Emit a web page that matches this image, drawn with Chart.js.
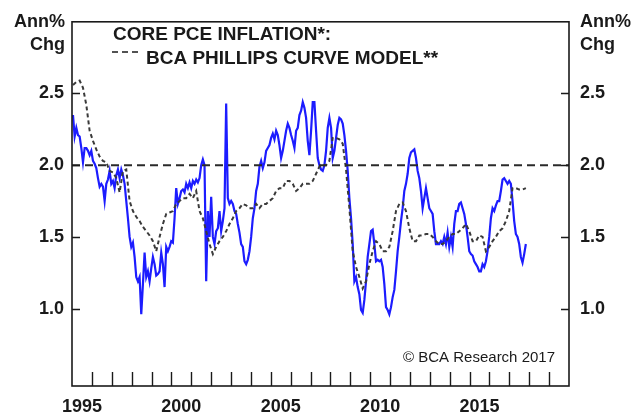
<!DOCTYPE html>
<html>
<head>
<meta charset="utf-8">
<script src="https://cdn.jsdelivr.net/npm/chart.js@4"></script>
<style>
  html, body { margin: 0; padding: 0; background: #fff; }
  #wrap { width: 644px; height: 414px; }
</style>
</head>
<body>
<div id="wrap"><canvas id="chart" width="644" height="414"></canvas></div>
<script>
// Core PCE inflation, sampled roughly monthly off the picture (Ann% Chg)
const coreStart = 1995.05;
const coreStep = 0.08375;
const coreValues = [
  2.35, 2.20, 2.26, 2.21, 2.20, 2.12, 2.02, 2.12, 2.12, 2.10, 2.07, 2.10, 2.03, 2.01, 1.98, 1.91,
  1.85, 1.87, 1.85, 1.75, 1.87, 1.90, 1.96, 1.87, 1.89, 1.84, 1.93, 1.97, 1.91, 1.97, 1.93, 1.87,
  1.75, 1.63, 1.50, 1.43, 1.46, 1.36, 1.22, 1.19, 1.22, 0.96, 1.17, 1.39, 1.22, 1.26, 1.19, 1.28,
  1.36, 1.31, 1.23, 1.24, 1.26, 1.39, 1.31, 1.15, 1.43, 1.40, 1.43, 1.47, 1.46, 1.63, 1.84, 1.73,
  1.77, 1.82, 1.83, 1.81, 1.87, 1.84, 1.88, 1.84, 1.89, 1.87, 1.90, 1.88, 1.91, 2.00, 2.04, 2.00,
  1.19, 1.68, 1.50, 1.78, 1.50, 1.45, 1.54, 1.56, 1.68, 1.54, 1.61, 1.70, 2.43, 1.77, 1.73, 1.75,
  1.73, 1.68, 1.66, 1.59, 1.53, 1.45, 1.43, 1.33, 1.31, 1.34, 1.40, 1.50, 1.63, 1.70, 1.82, 1.87,
  1.99, 2.03, 1.98, 2.02, 2.10, 2.12, 2.14, 2.19, 2.22, 2.18, 2.24, 2.21, 2.14, 2.05, 2.10, 2.17,
  2.24, 2.29, 2.26, 2.21, 2.17, 2.12, 2.24, 2.26, 2.35, 2.38, 2.44, 2.40, 2.33, 2.17, 2.07, 2.24,
  2.44, 2.44, 2.24, 2.05, 2.00, 1.97, 1.96, 2.00, 2.10, 2.26, 2.33, 2.26, 2.05, 2.10, 2.19, 2.28,
  2.33, 2.32, 2.29, 2.21, 2.10, 1.96, 1.77, 1.63, 1.45, 1.19, 1.22, 1.15, 1.10, 0.99, 0.97, 1.06,
  1.19, 1.36, 1.45, 1.54, 1.55, 1.45, 1.33, 1.34, 1.33, 1.34, 1.29, 1.17, 1.01, 0.99, 0.96, 1.01,
  1.08, 1.13, 1.26, 1.40, 1.50, 1.61, 1.70, 1.82, 1.87, 1.94, 2.05, 2.09, 2.10, 2.11, 2.05, 1.96,
  1.91, 1.82, 1.70, 1.77, 1.84, 1.77, 1.70, 1.68, 1.66, 1.54, 1.45, 1.45, 1.45, 1.47, 1.45, 1.50,
  1.45, 1.53, 1.43, 1.50, 1.43, 1.59, 1.68, 1.68, 1.73, 1.74, 1.70, 1.66, 1.59, 1.50, 1.40, 1.38,
  1.37, 1.33, 1.31, 1.29, 1.26, 1.26, 1.31, 1.29, 1.33, 1.40, 1.50, 1.63, 1.70, 1.68, 1.72, 1.75,
  1.75, 1.82, 1.90, 1.91, 1.89, 1.87, 1.89, 1.87, 1.75, 1.61, 1.52, 1.50, 1.45, 1.36, 1.32, 1.38,
  1.45
];

// BCA Phillips curve model, sampled about every two months
const modelStart = 1995.05;
const modelStep = 0.1675;
const modelValues = [
  2.56, 2.58, 2.59, 2.54, 2.42, 2.24, 2.17, 2.11, 2.06, 2.03, 2.02, 1.96, 1.95, 1.91, 1.81, 1.96,
  1.97, 1.75, 1.68, 1.64, 1.61, 1.57, 1.54, 1.51, 1.47, 1.40, 1.50, 1.59, 1.66, 1.67, 1.68, 1.73,
  1.75, 1.77, 1.77, 1.80, 1.77, 1.82, 1.68, 1.63, 1.54, 1.45, 1.38, 1.43, 1.47, 1.50, 1.54, 1.59,
  1.63, 1.68, 1.70, 1.73, 1.72, 1.70, 1.70, 1.73, 1.70, 1.73, 1.73, 1.75, 1.77, 1.82, 1.84, 1.84,
  1.89, 1.89, 1.87, 1.82, 1.84, 1.87, 1.87, 1.87, 1.89, 1.94, 1.99, 2.00, 2.00, 2.03, 2.19, 2.19,
  2.18, 2.15, 1.97, 1.70, 1.40, 1.29, 1.22, 1.14, 1.19, 1.31, 1.40, 1.47, 1.45, 1.40, 1.40, 1.43,
  1.54, 1.68, 1.73, 1.74, 1.68, 1.56, 1.47, 1.47, 1.51, 1.51, 1.52, 1.52, 1.50, 1.47, 1.45, 1.45,
  1.47, 1.50, 1.52, 1.52, 1.54, 1.56, 1.59, 1.54, 1.47, 1.47, 1.51, 1.50, 1.40, 1.43, 1.47, 1.50,
  1.54, 1.56, 1.61, 1.68, 1.84, 1.84, 1.83, 1.83, 1.84
];

const targetYears = [1995, 2020];
const targetValue = 2.0;

const yearLabels = ['1995', '2000', '2005', '2010', '2015'];
const yTicks = [1.0, 1.5, 2.0, 2.5];
const xMin = 1995, xMax = 2020;
const yMin = 0.46, yMax = 3.0;

const legendLines = ['CORE PCE INFLATION*:', 'BCA PHILLIPS CURVE MODEL**'];
const unitLines = ['Ann%', 'Chg'];
const sourceNote = '\u00A9 BCA Research 2017';

const coreData = coreValues.map((v, i) => ({ x: coreStart + i * coreStep, y: v }));
const modelData = modelValues.map((v, i) => ({ x: modelStart + i * modelStep, y: v }));
const targetData = targetYears.map(x => ({ x: x, y: targetValue }));

const INK = '#1a1a1a';
const BOLD = 'bold 18px "Liberation Sans", Arial, sans-serif';

// frame, inward tick marks and the loose texts
const decorPlugin = {
  id: 'decor',
  afterDatasetsDraw(chart) {
    const { ctx, chartArea: a, scales } = chart;
    ctx.save();
    ctx.strokeStyle = INK;
    ctx.lineWidth = 1.6;
    ctx.strokeRect(a.left, a.top, a.right - a.left, a.bottom - a.top);

    ctx.lineWidth = 1.4;
    ctx.beginPath();
    yTicks.forEach(v => {
      const y = Math.round(scales.y.getPixelForValue(v)) + 0.5;
      ctx.moveTo(a.left, y); ctx.lineTo(a.left + 8, y);
      ctx.moveTo(a.right, y); ctx.lineTo(a.right - 8, y);
    });
    for (let yr = xMin + 1; yr < xMax; yr++) {
      const x = Math.round(scales.x.getPixelForValue(yr)) + 0.5;
      ctx.moveTo(x, a.bottom); ctx.lineTo(x, a.bottom - 14);
    }
    ctx.stroke();

    ctx.fillStyle = INK;
    ctx.font = BOLD;
    ctx.textBaseline = 'middle';
    ctx.textAlign = 'right';
    ctx.fillText(unitLines[0], 65, 22);
    ctx.fillText(unitLines[1], 65, 45);
    ctx.textAlign = 'left';
    ctx.fillText(unitLines[0], 580, 22);
    ctx.fillText(unitLines[1], 580, 45);

    ctx.font = 'bold 19px "Liberation Sans", Arial, sans-serif';
    ctx.fillText(legendLines[0], 113, 35);
    ctx.fillText(legendLines[1], 146, 59);

    ctx.setLineDash([6, 4]);
    ctx.lineWidth = 1.6;
    ctx.beginPath();
    ctx.moveTo(112, 52); ctx.lineTo(140, 52);
    ctx.stroke();
    ctx.setLineDash([]);

    ctx.font = '15px "Liberation Sans", Arial, sans-serif';
    ctx.textAlign = 'right';
    ctx.fillText(sourceNote, 555, 358);
    ctx.restore();
  }
};

new Chart(document.getElementById('chart'), {
  type: 'line',
  data: {
    datasets: [
      {
        label: 'Core PCE',
        data: coreData,
        borderColor: 'rgb(28, 28, 255)',
        borderWidth: 2.2,
        pointRadius: 0,
        tension: 0,
        order: 3
      },
      {
        label: 'Model',
        data: modelData,
        borderColor: '#3a3a3a',
        borderWidth: 2,
        borderDash: [4, 3],
        pointRadius: 0,
        tension: 0,
        order: 2
      },
      {
        label: 'Target',
        data: targetData,
        borderColor: '#2a2a2a',
        borderWidth: 2,
        borderDash: [8, 5],
        pointRadius: 0,
        order: 1
      }
    ]
  },
  options: {
    responsive: false,
    animation: false,
    layout: { padding: { top: 19, left: 0, right: 0, bottom: 0 } },
    plugins: { legend: { display: false }, tooltip: { enabled: false } },
    scales: {
      x: {
        type: 'linear',
        min: xMin,
        max: xMax,
        grid: { display: false, drawTicks: false },
        border: { display: false },
        afterBuildTicks: s => { s.ticks = yearLabels.map(l => ({ value: Number(l) + 0.5 })); },
        afterFit: s => { s.height = 28; },
        ticks: {
          padding: 10,
          maxRotation: 0,
          autoSkip: false,
          color: INK,
          font: { family: '"Liberation Sans", Arial, sans-serif', size: 18, weight: 'bold' },
          callback: v => String(Math.floor(v))
        }
      },
      y: {
        position: 'left',
        min: yMin,
        max: yMax,
        grid: { display: false, drawTicks: false },
        border: { display: false },
        afterBuildTicks: s => { s.ticks = yTicks.map(v => ({ value: v })); },
        afterFit: s => { s.width = 72; },
        ticks: {
          padding: 8,
          color: INK,
          font: { family: '"Liberation Sans", Arial, sans-serif', size: 18, weight: 'bold' },
          callback: v => v.toFixed(1)
        }
      },
      y2: {
        position: 'right',
        min: yMin,
        max: yMax,
        grid: { display: false, drawTicks: false },
        border: { display: false },
        afterBuildTicks: s => { s.ticks = yTicks.map(v => ({ value: v })); },
        afterFit: s => { s.width = 75; },
        ticks: {
          padding: 11,
          color: INK,
          font: { family: '"Liberation Sans", Arial, sans-serif', size: 18, weight: 'bold' },
          callback: v => v.toFixed(1)
        }
      }
    }
  },
  plugins: [decorPlugin]
});
</script>
</body>
</html>
